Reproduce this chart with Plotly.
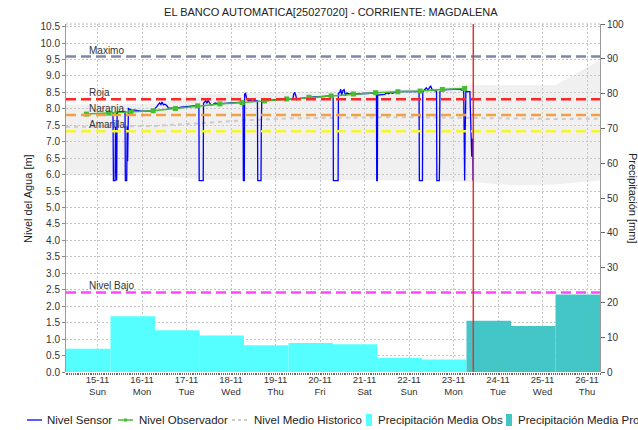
import plotly.graph_objects as go

FONT = "Liberation Sans, Arial, sans-serif"
DAY_MS = 86400000

# ---------------- data ----------------
day_ticks = ["2020-11-15", "2020-11-16", "2020-11-17", "2020-11-18", "2020-11-19", "2020-11-20",
             "2020-11-21", "2020-11-22", "2020-11-23", "2020-11-24", "2020-11-25", "2020-11-26"]
day_labels = ["15-11<br>Sun", "16-11<br>Mon", "17-11<br>Tue", "18-11<br>Wed", "19-11<br>Thu", "20-11<br>Fri",
              "21-11<br>Sat", "22-11<br>Sun", "23-11<br>Mon", "24-11<br>Tue", "25-11<br>Wed", "26-11<br>Thu"]

# daily precipitation, 07:00 -> 07:00 [mm]
precip_obs_start = ["2020-11-14 07:00", "2020-11-15 07:00", "2020-11-16 07:00", "2020-11-17 07:00",
                    "2020-11-18 07:00", "2020-11-19 07:00", "2020-11-20 07:00", "2020-11-21 07:00",
                    "2020-11-22 07:00"]
precip_obs_mm = [6.7, 16.0, 12.0, 10.5, 7.7, 8.3, 8.0, 4.0, 3.6]
precip_pro_start = ["2020-11-23 07:00", "2020-11-24 07:00", "2020-11-25 07:00"]
precip_pro_mm = [14.7, 13.2, 22.3]

# historic envelope and mean level [m]
hist_time = ["2020-11-14 07:00", "2020-11-15 07:00", "2020-11-16 07:00", "2020-11-17 07:00",
             "2020-11-18 07:00", "2020-11-19 07:00", "2020-11-20 07:00", "2020-11-21 07:00",
             "2020-11-22 07:00", "2020-11-23 07:00", "2020-11-24 07:00", "2020-11-25 07:00",
             "2020-11-26 07:00"]
hist_max = [8.13, 8.13, 8.15, 8.45, 8.47, 8.50, 8.55, 8.57, 8.60, 8.72, 8.72, 8.72, 9.48]
hist_min = [5.98, 5.98, 5.97, 5.85, 5.84, 5.83, 5.83, 5.83, 5.83, 5.78, 5.68, 5.70, 5.83]
hist_mean = [7.45, 7.46, 7.48, 7.56, 7.65, 7.71, 7.73, 7.74, 7.74, 7.72, 7.69, 7.69, 7.70]

# observer readings [m]
obs_time = ["2020-11-14 18:00", "2020-11-15 06:00", "2020-11-15 18:00", "2020-11-16 06:00",
            "2020-11-16 18:00", "2020-11-17 06:00", "2020-11-17 18:00", "2020-11-18 06:00",
            "2020-11-18 18:00", "2020-11-19 06:00", "2020-11-19 18:00", "2020-11-20 06:00",
            "2020-11-20 18:00", "2020-11-21 06:00", "2020-11-21 18:00", "2020-11-22 06:00",
            "2020-11-22 18:00", "2020-11-23 06:00"]
obs_level = [7.84, 7.87, 7.89, 7.94, 8.01, 8.09, 8.15, 8.19, 8.24, 8.30, 8.35, 8.39,
             8.45, 8.49, 8.52, 8.54, 8.59, 8.62]

# automatic sensor readings [m]
sensor_time = [
    "2020-11-15 08:20", "2020-11-15 08:35", "2020-11-15 09:30", "2020-11-15 09:40", "2020-11-15 09:55",
    "2020-11-15 10:20", "2020-11-15 10:35", "2020-11-15 12:30", "2020-11-15 14:50", "2020-11-15 15:00",
    "2020-11-15 15:45", "2020-11-15 16:00", "2020-11-15 16:15", "2020-11-15 16:40", "2020-11-15 18:00",
    "2020-11-15 20:00", "2020-11-15 22:00",
    "2020-11-16 00:00", "2020-11-16 03:00", "2020-11-16 06:00", "2020-11-16 07:50", "2020-11-16 08:40",
    "2020-11-16 09:30", "2020-11-16 10:10", "2020-11-16 10:50", "2020-11-16 11:30", "2020-11-16 12:20",
    "2020-11-16 13:20", "2020-11-16 14:10", "2020-11-16 16:00", "2020-11-16 18:00", "2020-11-16 21:00",
    "2020-11-17 00:00", "2020-11-17 03:00", "2020-11-17 06:40", "2020-11-17 06:50", "2020-11-17 09:00",
    "2020-11-17 09:10", "2020-11-17 09:40", "2020-11-17 10:20", "2020-11-17 11:00", "2020-11-17 11:40",
    "2020-11-17 12:20", "2020-11-17 13:10", "2020-11-17 14:20", "2020-11-17 15:30", "2020-11-17 17:00",
    "2020-11-17 20:00",
    "2020-11-18 00:00", "2020-11-18 03:00", "2020-11-18 06:30", "2020-11-18 06:40", "2020-11-18 07:10",
    "2020-11-18 07:20", "2020-11-18 07:50", "2020-11-18 08:30", "2020-11-18 09:30", "2020-11-18 10:30",
    "2020-11-18 11:30", "2020-11-18 12:30", "2020-11-18 14:15", "2020-11-18 14:25", "2020-11-18 16:10",
    "2020-11-18 16:20", "2020-11-18 16:35", "2020-11-18 18:00", "2020-11-18 21:00",
    "2020-11-19 00:00", "2020-11-19 03:00", "2020-11-19 06:00", "2020-11-19 09:20", "2020-11-19 09:50",
    "2020-11-19 10:20", "2020-11-19 10:50", "2020-11-19 11:30", "2020-11-19 13:00", "2020-11-19 15:00",
    "2020-11-19 18:00", "2020-11-19 21:00",
    "2020-11-20 00:00", "2020-11-20 03:00", "2020-11-20 06:00", "2020-11-20 07:05", "2020-11-20 07:12",
    "2020-11-20 09:45", "2020-11-20 09:55", "2020-11-20 10:40", "2020-11-20 11:10", "2020-11-20 11:40",
    "2020-11-20 12:20", "2020-11-20 13:00", "2020-11-20 13:40", "2020-11-20 14:30", "2020-11-20 16:00",
    "2020-11-20 18:00", "2020-11-20 21:00",
    "2020-11-21 00:00", "2020-11-21 03:00", "2020-11-21 06:25", "2020-11-21 06:35", "2020-11-21 06:55",
    "2020-11-21 07:05", "2020-11-21 09:00", "2020-11-21 11:00", "2020-11-21 12:00", "2020-11-21 13:00",
    "2020-11-21 14:00", "2020-11-21 15:00", "2020-11-21 16:20", "2020-11-21 18:00", "2020-11-21 21:00",
    "2020-11-22 00:00", "2020-11-22 03:00", "2020-11-22 05:25", "2020-11-22 05:35", "2020-11-22 07:15",
    "2020-11-22 07:25", "2020-11-22 08:30", "2020-11-22 09:20", "2020-11-22 10:10", "2020-11-22 11:40",
    "2020-11-22 12:30", "2020-11-22 13:30", "2020-11-22 14:50", "2020-11-22 15:00", "2020-11-22 16:20",
    "2020-11-22 16:30", "2020-11-22 16:40", "2020-11-22 18:00", "2020-11-22 21:00",
    "2020-11-23 00:00", "2020-11-23 03:00", "2020-11-23 05:30", "2020-11-23 05:40", "2020-11-23 06:00",
    "2020-11-23 06:15", "2020-11-23 06:40", "2020-11-23 08:50", "2020-11-23 09:00", "2020-11-23 09:30",
    "2020-11-23 09:50", "2020-11-23 10:00", "2020-11-23 10:10", "2020-11-23 10:20", "2020-11-23 10:30",
]
sensor_level = [
    7.88, 5.82, 5.82, 7.45, 6.85, 5.82, 7.90, 7.91, 7.92, 5.82, 5.82, 7.47, 6.41, 8.01, 7.97, 7.96, 7.94,
    7.93, 7.93, 7.94, 8.06, 8.12, 8.18, 8.13, 8.21, 8.12, 8.14, 8.10, 8.03, 8.02, 8.00, 8.05,
    8.06, 8.08, 8.10, 5.82, 5.82, 8.17, 8.21, 8.24, 8.18, 8.25, 8.19, 8.12, 8.13, 8.18, 8.15, 8.17,
    8.18, 8.19, 8.20, 5.82, 5.82, 8.45, 8.47, 8.30, 8.24, 8.26, 8.22, 8.25, 8.24, 5.82, 5.82, 7.45,
    8.30, 8.24, 8.27,
    8.28, 8.29, 8.30, 8.30, 8.45, 8.50, 8.42, 8.28, 8.31, 8.33, 8.35, 8.36,
    8.37, 8.38, 8.39, 8.33, 5.82, 5.82, 8.47, 8.50, 8.60, 8.42, 8.55, 8.58, 8.40, 8.48, 8.45, 8.45, 8.46,
    8.47, 8.48, 8.48, 5.82, 5.82, 8.42, 8.43, 8.44, 8.49, 8.46, 8.50, 8.47, 8.50, 8.52, 8.53,
    8.53, 8.54, 8.52, 5.82, 5.82, 8.52, 8.58, 8.64, 8.57, 8.70, 8.57, 8.55, 8.54, 5.82, 5.82, 6.49,
    8.52, 8.58, 8.59,
    8.60, 8.60, 8.55, 5.82, 5.82, 7.15, 8.52, 8.52, 7.86, 7.15, 6.54, 7.10, 6.60, 7.00, 5.82,
]

# alert levels [m]
threshold_names = ["Maximo", "Roja", "Naranja", "Amarilla", "Nivel Bajo"]
threshold_levels = [9.59, 8.29, 7.81, 7.32, 2.42]
threshold_colors = ["#7D88AA", "#FF2626", "#F5A040", "#F6F62E", "#FF45FF"]

now_time = "2020-11-23 10:40"
x_range = ["2020-11-14 07:00", "2020-11-26 07:00"]

# ---------------- figure ----------------
fig = go.Figure()

fig.add_trace(go.Scatter(x=hist_time, y=hist_min, mode="lines", line=dict(width=0),
                         hoverinfo="skip", showlegend=False))
fig.add_trace(go.Scatter(x=hist_time, y=hist_max, mode="lines", line=dict(width=0),
                         fill="tonexty", fillcolor="rgba(205,205,205,0.30)",
                         hoverinfo="skip", showlegend=False))
fig.add_trace(go.Scatter(x=hist_time, y=hist_mean, mode="lines", name="Nivel Medio Historico",
                         line=dict(color="#CCCCCC", width=2, dash="4px,4px")))
fig.add_trace(go.Scatter(x=sensor_time, y=sensor_level, mode="lines", name="Nivel Sensor",
                         line=dict(color="#0000FF", width=1.3)))
fig.add_trace(go.Scatter(x=obs_time, y=obs_level, mode="lines+markers", name="Nivel Observador",
                         line=dict(color="#47BB33", width=1.5),
                         marker=dict(symbol="square", size=5, color="#47BB33")))
fig.add_trace(go.Bar(x=precip_obs_start, y=precip_obs_mm, offset=0, width=[DAY_MS] * len(precip_obs_mm),
                     marker=dict(color="#55FFFF", line=dict(width=0)), yaxis="y2",
                     name="Precipitación Media Obs"))
fig.add_trace(go.Bar(x=precip_pro_start, y=precip_pro_mm, offset=0, width=[DAY_MS] * len(precip_pro_mm),
                     marker=dict(color="#45C6C6", line=dict(width=0)), yaxis="y2",
                     name="Precipitación Media Pro"))

shapes = []
annotations = []

# alert level lines with their labels
for name, lvl, col in zip(threshold_names, threshold_levels, threshold_colors):
    shapes.append(dict(type="line", xref="paper", x0=0, x1=1, yref="y", y0=lvl, y1=lvl,
                       line=dict(color=col, width=2.5, dash="10px,5px"), layer="above"))
    annotations.append(dict(text=name, xref="paper", x=0.04, yref="y", y=lvl, xanchor="left",
                            yanchor="bottom", yshift=-1, showarrow=False,
                            font=dict(family=FONT, size=10, color="#333333")))

# current time marker
shapes.append(dict(type="line", xref="x", x0=now_time, x1=now_time, yref="paper", y0=0, y1=1,
                   line=dict(color="#E03434", width=1.5), layer="above"))
# dotted top frame
shapes.append(dict(type="line", xref="paper", x0=0, x1=1, yref="paper", y0=1, y1=1,
                   line=dict(color="#BBBBBB", width=1, dash="2px,2px"), layer="above"))

# axis titles
annotations.append(dict(text="Nivel del Agua [m]", xref="paper", x=-0.0712, yref="paper", y=0.5,
                        xanchor="center", yanchor="middle", textangle=-90, showarrow=False,
                        font=dict(family=FONT, size=11, color="#222222")))
annotations.append(dict(text="Precipitación [mm]", xref="paper", x=1.0618, yref="paper", y=0.5,
                        xanchor="center", yanchor="middle", textangle=90, showarrow=False,
                        font=dict(family=FONT, size=11, color="#222222")))

# legend row below the plot
W, PL, PT, PH = 534.0, 66.0, 24.0, 348.0
def px(x):
    return (x - PL) / W
def py(y):
    return (PT + PH - y) / PH

ly = 420
legend_font = dict(family=FONT, size=11.5, color="#222222")
shapes.append(dict(type="line", xref="paper", yref="paper", x0=px(27), x1=px(42), y0=py(ly), y1=py(ly),
                   line=dict(color="#0000FF", width=1.3)))
shapes.append(dict(type="line", xref="paper", yref="paper", x0=px(118), x1=px(133), y0=py(ly), y1=py(ly),
                   line=dict(color="#47BB33", width=1.5)))
shapes.append(dict(type="rect", xref="paper", yref="paper", x0=px(124), x1=px(127), y0=py(ly - 1.5),
                   y1=py(ly + 1.5), line=dict(width=0), fillcolor="#47BB33"))
shapes.append(dict(type="line", xref="paper", yref="paper", x0=px(232), x1=px(247), y0=py(ly), y1=py(ly),
                   line=dict(color="#CCCCCC", width=2, dash="3px,3px")))
shapes.append(dict(type="rect", xref="paper", yref="paper", x0=px(366), x1=px(372), y0=py(ly + 6),
                   y1=py(ly - 6), line=dict(width=0), fillcolor="#55FFFF"))
shapes.append(dict(type="rect", xref="paper", yref="paper", x0=px(506), x1=px(512), y0=py(ly + 6),
                   y1=py(ly - 6), line=dict(width=0), fillcolor="#45C6C6"))
for text, x0 in [("Nivel Sensor", 45), ("Nivel Observador", 137), ("Nivel Medio Historico", 252),
                 ("Precipitación Media Obs", 376), ("Precipitación Media Pro", 516)]:
    annotations.append(dict(text=text, xref="paper", x=px(x0), yref="paper", y=py(ly), xanchor="left",
                            yanchor="middle", showarrow=False, font=legend_font))

fig.update_layout(
    width=638, height=430,
    margin=dict(l=66, r=38, t=24, b=58, autoexpand=False),
    paper_bgcolor="white", plot_bgcolor="white",
    font=dict(family=FONT, size=10, color="#333333"),
    showlegend=False,
    barmode="overlay",
    title=dict(text="EL BANCO AUTOMATICA[25027020] - CORRIENTE: MAGDALENA", x=0.496, xref="paper",
               xanchor="center", y=1 - 12 / 430, yref="container", yanchor="middle",
               font=dict(family=FONT, size=11, color="#222222")),
    xaxis=dict(type="date", range=x_range, tickvals=day_ticks, ticktext=day_labels,
               showgrid=True, gridcolor="#C4C4C4", griddash="2px,2px", gridwidth=1,
               ticks="", showline=False, zeroline=False,
               tickfont=dict(family=FONT, size=9.5, color="#333333"),
               minor=dict(dtick=3600000, ticks="outside", ticklen=2, tickcolor="#666666", showgrid=False)),
    yaxis=dict(range=[0, 10.578], tick0=0, dtick=0.5, tickformat=".1f",
               showgrid=True, gridcolor="#C4C4C4", griddash="2px,2px", gridwidth=1,
               ticks="outside", ticklen=3, tickcolor="#888888",
               showline=True, linecolor="#999999", zeroline=False,
               tickfont=dict(family=FONT, size=10, color="#333333")),
    yaxis2=dict(range=[0, 100], tick0=0, dtick=10, overlaying="y", side="right",
                showgrid=False, ticks="outside", ticklen=4, tickcolor="#666666",
                showline=True, linecolor="#999999", zeroline=False,
                tickfont=dict(family=FONT, size=10, color="#333333")),
    shapes=shapes,
    annotations=annotations,
)

fig.write_html("out.html")
